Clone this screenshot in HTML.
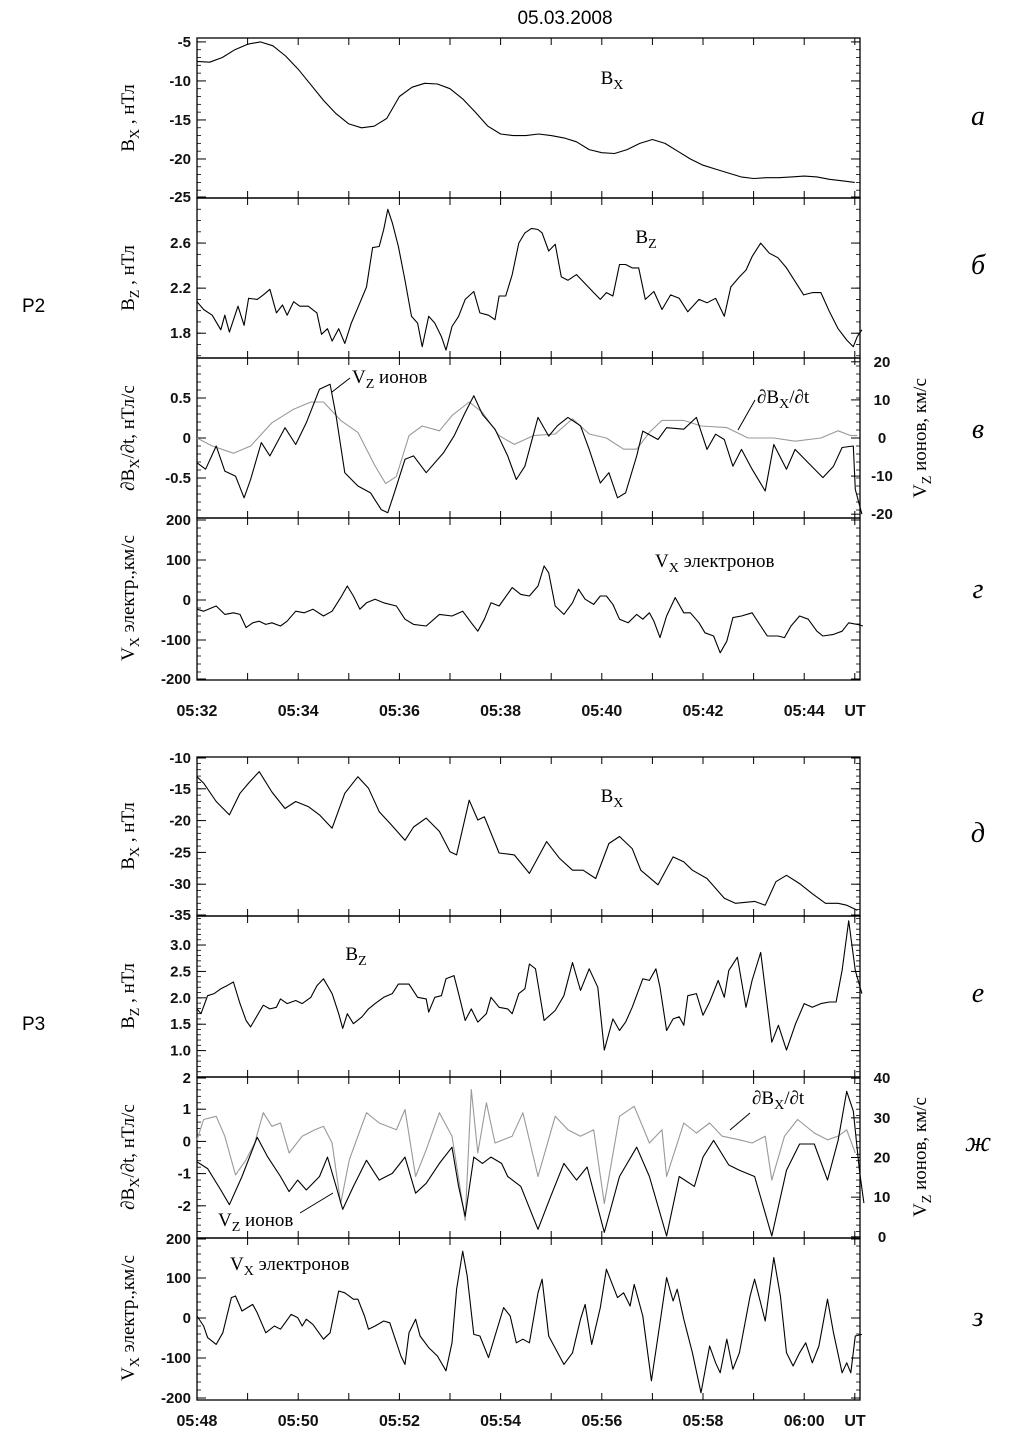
<!DOCTYPE html>
<html><head><meta charset="utf-8">
<style>
html,body{margin:0;padding:0;background:#fff;}
svg{display:block;}
.tk{font-family:"Liberation Sans",Arial,sans-serif;font-size:15px;font-weight:bold;fill:#111;}
.xl{font-family:"Liberation Sans",Arial,sans-serif;font-size:16px;font-weight:bold;fill:#111;}
.sr{font-family:"Liberation Serif","DejaVu Serif",serif;font-size:19px;fill:#000;}
.let{font-family:"Liberation Serif",serif;font-style:italic;font-size:28px;fill:#000;}
</style></head>
<body>
<svg id="chart" width="1009" height="1451" viewBox="0 0 1009 1451" xmlns="http://www.w3.org/2000/svg">
<rect width="1009" height="1451" fill="#fff"/>
<text x="565" y="24" text-anchor="middle" style="font-family:'Liberation Sans',sans-serif;font-size:19px">05.03.2008</text>
<text x="22" y="312" style="font-family:'Liberation Sans',sans-serif;font-size:19px">P2</text>
<text x="22" y="1030" style="font-family:'Liberation Sans',sans-serif;font-size:19px">P3</text>
<g id="plots"></g>
</svg>
<script>
// ---- data (minutes from group start, values) ----
const aT = [0,.25,.5,.75,1,1.25,1.5,1.75,2,2.25,2.5,2.75,3,3.25,3.5,3.75,4,4.25,4.5,4.75,5,5.25,5.5,5.75,6,6.25,6.5,6.75,7,7.25,7.5,7.75,8,8.25,8.5,8.75,9,9.25,9.5,9.75,10,10.25,10.5,10.75,11,11.25,11.5,11.75,12,12.25,12.5,12.75,13];
const aV = [-7.5,-7.6,-7.0,-6.0,-5.3,-5.0,-5.5,-6.8,-8.5,-10.5,-12.5,-14.2,-15.5,-16.0,-15.8,-14.8,-12.0,-10.8,-10.3,-10.4,-11.0,-12.3,-14.0,-15.8,-16.8,-17.0,-17.0,-16.8,-17.0,-17.3,-17.8,-18.8,-19.2,-19.3,-18.8,-18.0,-17.5,-18.0,-19.0,-20.0,-20.8,-21.3,-21.8,-22.3,-22.5,-22.4,-22.4,-22.3,-22.2,-22.3,-22.6,-22.8,-23.0];

const bT = [0,.13,.30,.47,.55,.64,.81,.93,1.02,1.19,1.31,1.44,1.57,1.69,1.78,1.91,2.03,2.20,2.37,2.46,2.58,2.67,2.80,2.92,3.05,3.22,3.35,3.47,3.60,3.69,3.77,3.86,3.98,4.11,4.24,4.36,4.45,4.58,4.70,4.83,4.92,5.04,5.17,5.30,5.47,5.59,5.76,5.89,5.97,6.10,6.23,6.36,6.48,6.61,6.74,6.82,6.95,7.08,7.20,7.33,7.50,7.67,7.84,7.97,8.09,8.22,8.35,8.47,8.60,8.73,8.86,9.03,9.19,9.36,9.53,9.70,9.92,10.08,10.25,10.42,10.55,10.72,10.85,10.97,11.14,11.31,11.48,11.65,11.82,11.99,12.16,12.33,12.50,12.67,12.84,12.97,13.05,13.14];
const bV = [2.08,2.01,1.96,1.83,1.96,1.81,2.04,1.87,2.11,2.10,2.14,2.19,1.98,2.05,1.96,2.08,2.04,2.04,1.98,1.79,1.84,1.73,1.84,1.71,1.89,2.07,2.21,2.56,2.57,2.72,2.90,2.78,2.57,2.27,1.95,1.89,1.68,1.95,1.89,1.77,1.65,1.86,1.95,2.10,2.17,1.98,1.96,1.92,2.13,2.13,2.32,2.60,2.69,2.73,2.72,2.69,2.53,2.59,2.30,2.27,2.32,2.24,2.16,2.10,2.16,2.13,2.41,2.41,2.38,2.38,2.10,2.17,2.01,2.14,2.11,1.99,2.10,2.07,2.11,1.95,2.21,2.30,2.36,2.48,2.60,2.51,2.47,2.38,2.26,2.14,2.16,2.16,1.99,1.84,1.74,1.68,1.77,1.83];

const cVzT = [0,.17,.38,.55,.76,.93,1.06,1.27,1.44,1.74,1.95,2.16,2.42,2.63,2.75,2.92,3.18,3.43,3.64,3.77,3.90,4.11,4.28,4.53,4.87,5.08,5.30,5.47,5.64,5.89,6.14,6.31,6.48,6.74,6.95,7.12,7.33,7.58,7.75,7.97,8.14,8.31,8.47,8.69,8.81,9.11,9.28,9.62,9.87,10.08,10.25,10.42,10.59,10.76,10.97,11.23,11.40,11.65,11.82,12.08,12.37,12.58,12.75,12.97,13.01,13.14];
const cVzV = [-6.5,-8.2,-2.1,-8.7,-10.0,-15.7,-10.9,-1.2,-4.7,2.7,-1.7,4.0,12.8,14.1,5.8,-9.1,-12.6,-14.4,-18.8,-19.6,-14.4,-5.6,-4.7,-9.1,-3.9,0.5,6.7,11.1,6.2,2.3,-4.7,-10.9,-7.4,5.4,0.5,3.2,5.4,3.2,-3.0,-11.8,-9.1,-15.7,-14.4,-4.7,1.8,-0.4,2.7,2.3,5.4,-3.0,1.0,-0.4,-7.4,-3.0,-8.2,-13.9,-1.7,-8.2,-3.0,-6.5,-10.4,-7.4,-2.5,-2.1,-13.5,-20];
const cDbT = [0,.30,.72,1.06,1.48,1.91,2.25,2.50,2.84,3.18,3.52,3.73,3.94,4.19,4.45,4.79,5.04,5.38,5.64,5.97,6.27,6.65,7.08,7.42,7.75,8.09,8.43,8.69,8.94,9.19,9.62,9.96,10.47,10.89,11.40,11.82,12.33,12.67,12.92,13.05];
const cDbV = [0,-0.1,-0.19,-0.1,0.19,0.36,0.45,0.45,0.22,0.07,-0.35,-0.57,-0.48,0.03,0.15,0.09,0.28,0.45,0.32,0.03,-0.08,0.03,0.05,0.24,0.05,0.0,-0.14,-0.14,0.07,0.22,0.22,0.15,0.13,0.0,0.0,-0.04,0.0,0.09,0.03,0.03];

const dT = [0,.13,.30,.38,.55,.72,.85,.97,1.10,1.23,1.36,1.48,1.65,1.78,1.95,2.12,2.29,2.50,2.67,2.84,2.97,3.09,3.22,3.35,3.52,3.69,3.94,4.11,4.28,4.53,4.79,5.04,5.25,5.42,5.55,5.68,5.81,5.97,6.23,6.40,6.57,6.74,6.86,6.95,7.08,7.25,7.42,7.54,7.67,7.84,7.97,8.09,8.22,8.35,8.52,8.69,8.81,8.94,9.03,9.15,9.28,9.45,9.62,9.75,9.92,10.04,10.21,10.34,10.47,10.59,10.76,10.97,11.14,11.27,11.48,11.61,11.74,11.91,12.08,12.25,12.37,12.58,12.75,12.88,13.05,13.16];
const dV = [-23,-28,-19,-15,-36,-32,-36,-69,-57,-53,-61,-57,-65,-53,-28,-32,-23,-40,-28,6,35,10,-23,-7,2,-7,-15,-48,-61,-65,-36,-40,-28,-57,-78,-48,-7,-15,31,14,10,35,85,68,-15,-36,-7,27,2,-11,10,10,-11,-48,-57,-36,-48,-32,-53,-94,-40,6,-32,-32,-57,-82,-90,-132,-103,-44,-40,-32,-65,-90,-90,-94,-65,-40,-48,-78,-90,-86,-78,-57,-61,-65];

const eT = [0,.13,.38,.64,.85,1.02,1.23,1.48,1.74,1.95,2.20,2.42,2.67,2.92,3.18,3.39,3.60,3.81,4.11,4.28,4.53,4.79,5.0,5.13,5.38,5.55,5.68,5.97,6.27,6.57,6.91,7.16,7.42,7.63,7.88,8.14,8.35,8.60,8.77,9.11,9.41,9.62,9.79,10.08,10.42,10.64,11.02,11.23,11.44,11.65,11.91,12.16,12.42,12.67,12.84,13.05];
const eV = [-13.1,-14.1,-17.0,-19.1,-15.7,-14.1,-12.3,-15.5,-18.1,-17.0,-17.8,-19.1,-21.2,-15.7,-13.1,-14.9,-18.6,-20.4,-23.1,-21.0,-19.6,-21.7,-24.9,-25.4,-16.8,-19.9,-19.4,-25.1,-25.4,-28.3,-23.3,-25.9,-27.8,-27.8,-29.1,-23.6,-22.5,-24.4,-27.8,-30.1,-25.7,-26.5,-27.8,-29.1,-32.2,-33.0,-32.7,-33.3,-29.6,-28.6,-29.9,-31.5,-33.0,-33.0,-33.3,-34.1];

const fT = [0,.08,.21,.34,.47,.59,.72,.85,.97,1.06,1.23,1.31,1.44,1.57,1.65,1.78,1.95,2.08,2.25,2.37,2.50,2.67,2.80,2.88,2.97,3.09,3.26,3.39,3.52,3.69,3.86,3.98,4.19,4.36,4.53,4.58,4.70,4.83,4.92,5.08,5.17,5.30,5.42,5.55,5.72,5.81,5.97,6.14,6.23,6.36,6.48,6.57,6.69,6.86,7.08,7.25,7.42,7.58,7.75,7.92,8.05,8.22,8.35,8.47,8.60,8.81,8.94,9.07,9.15,9.28,9.41,9.53,9.62,9.70,9.87,10.00,10.13,10.30,10.42,10.51,10.68,10.85,10.97,11.14,11.36,11.49,11.65,11.83,12.00,12.16,12.33,12.50,12.63,12.75,12.88,13.01,13.14];
const fV = [1.79,1.70,2.04,2.08,2.17,2.23,2.30,1.89,1.57,1.45,1.73,1.86,1.79,1.82,1.98,1.89,1.95,1.89,2.01,2.23,2.36,2.08,1.70,1.42,1.70,1.51,1.64,1.79,1.89,2.01,2.08,2.26,2.26,2.01,1.98,1.73,2.01,2.04,2.36,2.42,2.08,1.57,1.79,1.54,1.70,2.01,1.82,1.79,1.70,2.08,2.17,2.64,2.55,1.57,1.76,2.04,2.67,2.14,2.55,2.20,1.01,1.60,1.38,1.54,1.82,2.36,2.33,2.55,2.20,1.38,1.60,1.64,1.48,2.04,2.08,1.67,1.92,2.33,2.01,2.52,2.77,1.82,2.33,2.86,1.16,1.48,1.01,1.51,1.89,1.82,1.89,1.92,1.92,2.52,3.46,2.52,2.08];

const gVzT = [0,.21,.47,.64,.89,1.19,1.40,1.65,1.82,1.99,2.16,2.42,2.58,2.75,2.88,3.09,3.35,3.60,3.86,4.11,4.32,4.53,4.79,5.04,5.17,5.30,5.47,5.64,5.81,6.02,6.14,6.40,6.74,6.99,7.25,7.50,7.71,8.05,8.35,8.69,8.94,9.28,9.53,9.83,10.00,10.21,10.51,10.72,11.02,11.36,11.65,11.91,12.20,12.46,12.67,12.84,12.97,13.09,13.18];
const gVzV = [18.9,17.2,11.8,8.1,15.2,25.1,20.1,15.2,11.4,14.3,11.8,15.2,20.1,12.7,6.9,12.7,19.3,14.3,16.0,20.1,11.0,13.5,18.5,22.6,12.7,5.2,20.1,18.5,20.1,18.5,15.2,12.7,1.9,10.2,18.5,14.3,17.6,1.1,15.2,22.6,15.2,0.2,15.2,12.7,20.1,24.3,18.1,16.8,15.2,0.2,16.8,23.4,23.4,14.3,24.3,36.7,31.7,16.8,8.5];
const gDbT = [0,.13,.38,.55,.76,.97,1.14,1.31,1.48,1.65,1.82,2.08,2.33,2.50,2.67,2.84,3.01,3.18,3.35,3.60,3.94,4.11,4.32,4.53,4.79,5.04,5.30,5.42,5.55,5.72,5.89,6.23,6.44,6.74,7.08,7.33,7.58,7.84,8.05,8.35,8.64,8.94,9.19,9.28,9.62,9.87,10.13,10.38,10.72,10.97,11.23,11.36,11.61,11.87,12.20,12.46,12.67,12.84,13.01];
const gDbV = [0.05,0.68,0.78,0.16,-1.04,-0.57,-0.05,0.89,0.47,0.57,-0.36,0.16,0.36,0.47,-0.05,-1.93,-0.57,0.16,0.89,0.57,0.36,0.99,-1.09,-0.26,0.89,0.16,-2.45,1.61,-0.36,1.2,-0.05,0.16,0.89,-1.09,0.78,0.36,0.16,0.36,-1.93,0.78,1.09,-0.05,0.36,-1.09,0.57,0.26,0.57,0.16,0.05,-0.05,0.16,-1.2,0.16,0.68,0.26,0.05,0.16,0.36,-0.36];

const hT = [0,.13,.21,.38,.51,.68,.76,.89,1.10,1.19,1.36,1.53,1.65,1.86,1.99,2.08,2.16,2.29,2.50,2.63,2.80,2.92,3.09,3.18,3.31,3.39,3.52,3.69,3.81,4.03,4.11,4.19,4.32,4.41,4.58,4.75,4.92,5.04,5.13,5.25,5.34,5.47,5.59,5.76,5.89,6.06,6.19,6.31,6.44,6.57,6.74,6.82,6.95,7.25,7.42,7.58,7.67,7.80,7.97,8.09,8.31,8.43,8.56,8.64,8.81,8.98,9.15,9.28,9.41,9.49,9.62,9.79,9.96,10.13,10.25,10.34,10.47,10.59,10.72,10.93,11.02,11.23,11.40,11.53,11.65,11.78,11.91,12.03,12.16,12.29,12.46,12.58,12.75,12.84,12.92,13.01,13.14];
const hV = [5,-20,-49,-66,-37,51,55,17.5,34,13,-37,-20,-28,9,1,-20,-3,-16,-53,-37,67.5,63,47,47,5,-28,-20,-7.5,-12,-95,-116,-37,-3,-45,-74,-95,-132,-62,72,167,105,-41,-45,-99,-45,26,5,-62,-53,-62,63,97,-45,-116,-87,-3,34,-66,26,122,51,63,30,84,5,-157,-12,101,42.5,72,-3,-87,-187,-70,-112,-137,-53,-128,-87,55,97,-7.5,151,55,-87,-120,-87,-62,-112,-70,47,-37,-137,-112,-137,-45,-41];

const topTickLabels = ["05:32","05:34","05:36","05:38","05:40","05:42","05:44"];
const botTickLabels = ["05:48","05:50","05:52","05:54","05:56","05:58","06:00"];

// ---- layout ----
const X0 = 197, X1 = 860, PXMIN = 50.6;
function xs(t){ return X0 + t*PXMIN; }
const NS = "http://www.w3.org/2000/svg";
const root = document.getElementById('plots');
function el(tag, attrs, parent){
  const e = document.createElementNS(NS, tag);
  for (const k in attrs) e.setAttribute(k, attrs[k]);
  (parent||root).appendChild(e);
  return e;
}
function mkY(p, v0, v1){ return v => p.top + (v0 - v)/(v0 - v1)*(p.bot - p.top); }

const panels = [
 {id:'a', top:38, bot:198, L:[-4.5,-25], ticks:[-5,-10,-15,-20,-25], minor:1},
 {id:'b', top:198, bot:358, L:[3.0,1.58], ticks:[2.6,2.2,1.8], minor:0.1, fmt:1},
 {id:'c', top:358, bot:518, L:[1.0,-1.0], ticks:[0.5,0,-0.5], minor:0.1, R:[21,-21], rticks:[20,10,0,-10,-20]},
 {id:'d', top:518, bot:680, L:[205,-200], ticks:[200,100,0,-100,-200], minor:20},
 {id:'e', top:757, bot:916, L:[-10,-35], ticks:[-10,-15,-20,-25,-30,-35], minor:1},
 {id:'f', top:916, bot:1077, L:[3.55,0.5], ticks:[3.0,2.5,2.0,1.5,1.0], minor:0.1, fmt:1},
 {id:'g', top:1077, bot:1238, L:[2,-3], ticks:[2,1,0,-1,-2], minor:0.2, R:[40.3,-0.3], rticks:[40,30,20,10,0]},
 {id:'h', top:1238, bot:1400, L:[200,-205], ticks:[200,100,0,-100,-200], minor:20},
];

panels.forEach(p=>{
  const g = el('g',{});
  
  
  p.g = g;
  p.y = mkY(p, p.L[0], p.L[1]);
  if (p.R) p.yr = mkY(p, p.R[0], p.R[1]);
  const r = el('rect',{x:X0,y:p.top,width:X1-X0,height:p.bot-p.top,fill:'none',stroke:'#000','stroke-width':1.3},g);
  
  
  for (let m=1; m<=13; m++){
    const x = xs(m);
    el('line',{x1:x,x2:x,y1:p.top,y2:p.top+7,stroke:'#000','stroke-width':1},g);
    el('line',{x1:x,x2:x,y1:p.bot,y2:p.bot-7,stroke:'#000','stroke-width':1},g);
  }
  const lo = Math.min(p.L[0],p.L[1]), hi = Math.max(p.L[0],p.L[1]);
  for (let v=Math.ceil(lo/p.minor)*p.minor; v<=hi+1e-9; v+=p.minor){
    const y = p.y(v);
    el('line',{x1:X0,x2:X0+4,y1:y,y2:y,stroke:'#000','stroke-width':0.8},g);
    el('line',{x1:X1,x2:X1-4,y1:y,y2:y,stroke:'#000','stroke-width':0.8},g);
  }
  p.ticks.forEach(v=>{
    const y = Math.min(Math.max(p.y(v), p.top+1), p.bot-1);
    el('line',{x1:X0,x2:X0+9,y1:y,y2:y,stroke:'#000','stroke-width':1},g);
    if(!p.R) el('line',{x1:X1,x2:X1-9,y1:y,y2:y,stroke:'#000','stroke-width':1},g);
    const t = el('text',{x:X0-6,y:y+5,'text-anchor':'end',class:'tk'},g);
    t.textContent = p.fmt ? v.toFixed(1) : String(v);
    
    
  });
  if (p.R){
    p.rticks.forEach(v=>{
      const y = Math.min(Math.max(p.yr(v), p.top+1), p.bot-1);
      el('line',{x1:X1,x2:X1-9,y1:y,y2:y,stroke:'#000','stroke-width':1},g);
      const t = el('text',{x:X1+22,y:y+5,'text-anchor':'middle',class:'tk'},g);
      t.textContent = String(v);
      
      
    });
  }
});

function series(p, T, V, color, yfn, name){
  const pts = T.map((t,i)=> xs(t).toFixed(1)+','+yfn(V[i]).toFixed(1)).join(' ');
  const pl = el('polyline',{points:pts,fill:'none',stroke:color,'stroke-width':1.1,'stroke-linejoin':'round'},p.g);
  
  
}
const P = {}; panels.forEach(p=>P[p.id]=p);
series(P.a, aT, aV, '#000', P.a.y, 'bx-line-p2');
series(P.b, bT, bV, '#000', P.b.y, 'bz-line-p2');
series(P.c, cDbT, cDbV, '#999', P.c.y, 'dbx-dt-line-p2');
series(P.c, cVzT, cVzV, '#000', P.c.yr, 'vz-ions-line-p2');
series(P.d, dT, dV, '#000', P.d.y, 'vx-electrons-line-p2');
series(P.e, eT, eV, '#000', P.e.y, 'bx-line-p3');
series(P.f, fT, fV, '#000', P.f.y, 'bz-line-p3');
series(P.g, gDbT, gDbV, '#999', P.g.y, 'dbx-dt-line-p3');
series(P.g, gVzT, gVzV, '#000', P.g.yr, 'vz-ions-line-p3');
series(P.h, hT, hV, '#000', P.h.y, 'vx-electrons-line-p3');

function xlabels(labels, y, nm){
  labels.forEach((s,i)=>{
    const t = el('text',{x:xs(i*2),y:y,'text-anchor':'middle',class:'xl'});
    t.textContent = s;
    
    
  });
  const u = el('text',{x:855,y:y,'text-anchor':'middle',class:'xl'});
  u.textContent = 'UT';
  
  
}
xlabels(topTickLabels, 716, 'x-tick-label-p2');
xlabels(botTickLabels, 1426, 'x-tick-label-p3');
</script>

<script>
const svg = document.getElementById('chart');
function sub(main, s, rest){
  return main + '<tspan font-size="14" dy="5">' + s + '</tspan><tspan dy="-5">' + (rest||'') + '</tspan>';
}
function addText(x,y,html,cls,name,rot,anchor){
  const t = document.createElementNS("http://www.w3.org/2000/svg",'text');
  t.setAttribute('x',x); t.setAttribute('y',y);
  t.setAttribute('class',cls);
  t.setAttribute('text-anchor',anchor||'middle');
  if (rot) t.setAttribute('transform','rotate(-90 '+x+' '+y+')');
  t.innerHTML = html;
  
  
  svg.appendChild(t);
}
addText(134,118,sub('B','X',' , нТл'),'sr','y-axis-title-bx-p2',true);
addText(134,278,sub('B','Z',' , нТл'),'sr','y-axis-title-bz-p2',true);
addText(134,438,'∂'+sub('B','X','/∂t, нТл/с'),'sr','y-axis-title-dbx-p2',true);
addText(134,598,sub('V','X',' электр.,км/с'),'sr','y-axis-title-vx-p2',true);
addText(134,836,sub('B','X',' , нТл'),'sr','y-axis-title-bx-p3',true);
addText(134,996,sub('B','Z',' , нТл'),'sr','y-axis-title-bz-p3',true);
addText(134,1157,'∂'+sub('B','X','/∂t, нТл/с'),'sr','y-axis-title-dbx-p3',true);
addText(134,1318,sub('V','X',' электр.,км/с'),'sr','y-axis-title-vx-p3',true);
addText(926,438,sub('V','Z',' ионов, км/с'),'sr','right-axis-title-vz-p2',true);
addText(926,1157,sub('V','Z',' ионов, км/с'),'sr','right-axis-title-vz-p3',true);
addText(612,84,sub('B','X'),'sr','label-bx-p2');
addText(646,243,sub('B','Z'),'sr','label-bz-p2');
addText(352,383,sub('V','Z',' ионов'),'sr','label-vz-p2',false,'start');
addText(757,403,'∂'+sub('B','X','/∂t'),'sr','label-dbx-p2',false,'start');
addText(655,567,sub('V','X',' электронов'),'sr','label-vx-p2',false,'start');
addText(612,802,sub('B','X'),'sr','label-bx-p3');
addText(356,960,sub('B','Z'),'sr','label-bz-p3');
addText(752,1104,'∂'+sub('B','X','/∂t'),'sr','label-dbx-p3',false,'start');
addText(218,1226,sub('V','Z',' ионов'),'sr','label-vz-p3',false,'start');
addText(230,1270,sub('V','X',' электронов'),'sr','label-vx-p3',false,'start');
[[350,378,332,392],[755,400,738,430],[750,1113,730,1130],[300,1213,333,1193]].forEach((c,i)=>{
  const l = document.createElementNS("http://www.w3.org/2000/svg",'line');
  l.setAttribute('x1',c[0]);l.setAttribute('y1',c[1]);l.setAttribute('x2',c[2]);l.setAttribute('y2',c[3]);
  l.setAttribute('stroke','#000');l.setAttribute('stroke-width','1');
  
  
  svg.appendChild(l);
});
[['а',117],['б',266],['в',430],['г',590],['д',834],['е',994],['ж',1143],['з',1318]].forEach(a=>{
  addText(978,a[1]+8,a[0],'let','panel-letter-'+a[0]);
});
</script>
</body></html>
